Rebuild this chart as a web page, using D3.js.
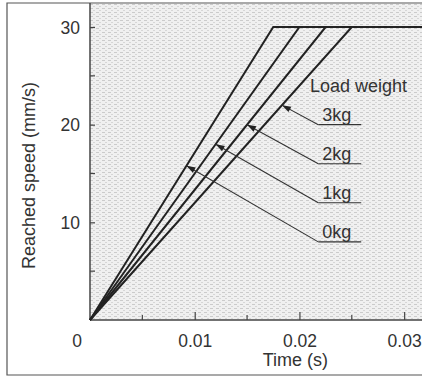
<!DOCTYPE html>
<html>
<head>
<meta charset="utf-8">
<script src="https://cdn.jsdelivr.net/npm/d3@7"></script>
<style>
  body { margin: 0; background: #fff; }
  svg { display: block; font-family: "Liberation Sans", Arial, sans-serif; }
  .tick-label { font-size: 17.5px; fill: #333; }
  .axis-title { font-size: 18px; fill: #333; }
  .note { font-size: 18px; fill: #333; }
</style>
</head>
<body>
<div id="chart"></div>
<script>
// chart values
const loads = ['0kg', '1kg', '2kg', '3kg'];
const reachTime = [0.0175, 0.0200, 0.0225, 0.0250];   // s, time to reach top speed
const topSpeed = 30;                                  // mm/s
const endTime = 0.0318;                               // right edge of the plot
const arrowSpeed = [15.8, 18, 20, 22];                // where each leader touches its line
const labelSpeed = [8, 12, 16, 20];                   // underline heights of the labels
const xTicks = [0.01, 0.02, 0.03];
const xMinor = [0.005, 0.015, 0.025];
const yTicks = [10, 20, 30];
const yMinor = [5, 15, 25];

const W = 422, H = 376;
const margin = { top: 4, left: 90, bottom: 56 };

const svg = d3.select('#chart').append('svg')
  .attr('width', W)
  .attr('height', H);

// halftone look of the plot area
const defs = svg.append('defs');
const pat = defs.append('pattern')
  .attr('id', 'ht')
  .attr('width', 6).attr('height', 4)
  .attr('patternUnits', 'userSpaceOnUse');
pat.append('rect').attr('width', 6).attr('height', 4).attr('fill', '#f0f0f0');
pat.append('rect').attr('x', 0).attr('y', 0).attr('width', 3).attr('height', 1).attr('fill', '#cbcbcb');
pat.append('rect').attr('x', 3).attr('y', 2).attr('width', 2).attr('height', 1).attr('fill', '#d6d6d6');

const xScale = d3.scaleLinear().domain([0, endTime]).range([margin.left, W + 1]);
const yScale = d3.scaleLinear().domain([0, topSpeed]).range([H - margin.bottom, 27]);

const y0 = yScale(0);

svg.append('rect')
  .attr('x', margin.left).attr('y', margin.top)
  .attr('width', W - margin.left).attr('height', y0 - margin.top)
  .attr('fill', 'url(#ht)');

// outer frame (cut off on the right)
svg.append('path')
  .attr('d', `M${W},3 H7 V375 H${W}`)
  .attr('fill', 'none')
  .attr('stroke', '#555')
  .attr('stroke-width', 1.2);

// axes
const xAxis = svg.append('g')
  .attr('transform', `translate(0, ${y0})`)
  .call(d3.axisBottom(xScale).tickValues(xTicks).tickSizeInner(-8).tickSizeOuter(0).tickFormat(d3.format('.2f')));
xAxis.append('g').selectAll('line').data(xMinor).join('line')
  .attr('x1', d => xScale(d)).attr('x2', d => xScale(d))
  .attr('y1', 0).attr('y2', -5)
  .attr('stroke', '#444');

const yAxis = svg.append('g')
  .attr('transform', `translate(${margin.left}, 0)`)
  .call(d3.axisLeft(yScale).tickValues(yTicks).tickSizeInner(-5).tickSizeOuter(0));
yAxis.append('g').selectAll('line').data(yMinor).join('line')
  .attr('y1', d => yScale(d)).attr('y2', d => yScale(d))
  .attr('x1', 0).attr('x2', 5)
  .attr('stroke', '#444');

[xAxis, yAxis].forEach(a => {
  a.select('.domain').remove();
  a.selectAll('line').attr('stroke', '#444').attr('stroke-width', 1.2);
  a.selectAll('text').attr('class', 'tick-label').attr('font-size', null).attr('font-family', null);
});
xAxis.selectAll('.tick text').attr('dy', null).attr('y', 27);
yAxis.selectAll('.tick text').attr('x', -10).attr('dy', '0.36em');

// axis lines
svg.append('line')
  .attr('x1', margin.left).attr('x2', W)
  .attr('y1', y0).attr('y2', y0)
  .attr('stroke', '#444').attr('stroke-width', 1.5);
svg.append('line')
  .attr('x1', margin.left).attr('x2', margin.left)
  .attr('y1', 3).attr('y2', y0)
  .attr('stroke', '#444').attr('stroke-width', 1.5);

// shared zero at the corner
svg.append('text')
  .attr('class', 'tick-label')
  .attr('x', xScale(0) - 13).attr('y', y0 + 27)
  .attr('text-anchor', 'middle')
  .text('0');

// axis titles
svg.append('text')
  .attr('class', 'axis-title')
  .attr('x', (xScale(0.015) + xScale(0.025)) / 2 - 4)
  .attr('y', 366)
  .attr('text-anchor', 'middle')
  .text('Time (s)');

svg.append('text')
  .attr('class', 'axis-title')
  .attr('transform', `translate(35, ${yScale(14.8)}) rotate(-90)`)
  .attr('text-anchor', 'middle')
  .text('Reached speed (mm/s)');

// series
const series = loads.map((name, i) => ({
  name,
  points: [[0, 0], [reachTime[i], topSpeed], [endTime, topSpeed]]
}));

const line = d3.line()
  .x(d => xScale(d[0]))
  .y(d => yScale(d[1]));

svg.append('g').selectAll('path').data(series).join('path')
  .attr('d', d => line(d.points))
  .attr('fill', 'none')
  .attr('stroke', '#222')
  .attr('stroke-width', 2)
  .attr('stroke-linejoin', 'miter');

// labels with leaders
const ulStart = 0.0218, ulEnd = 0.0259;
svg.append('text')
  .attr('class', 'note')
  .attr('x', xScale(0.0210))
  .attr('y', yScale(23.3))
  .text('Load weight');

const notes = svg.append('g');
loads.forEach((name, i) => {
  const tipX = xScale(arrowSpeed[i] / topSpeed * reachTime[i]);
  const tipY = yScale(arrowSpeed[i]);
  const sx = xScale(ulStart), sy = yScale(labelSpeed[i]);

  notes.append('line')
    .attr('x1', sx).attr('y1', sy)
    .attr('x2', xScale(ulEnd)).attr('y2', sy)
    .attr('stroke', '#333').attr('stroke-width', 1.1);
  notes.append('line')
    .attr('x1', sx).attr('y1', sy)
    .attr('x2', tipX).attr('y2', tipY)
    .attr('stroke', '#333').attr('stroke-width', 1.1);

  const ang = Math.atan2(tipY - sy, tipX - sx) * 180 / Math.PI;
  notes.append('path')
    .attr('d', 'M0,0 L-9,-3 L-9,3 Z')
    .attr('transform', `translate(${tipX},${tipY}) rotate(${ang})`)
    .attr('fill', '#222');

  notes.append('text')
    .attr('class', 'note')
    .attr('x', sx + 4)
    .attr('y', sy - 4)
    .text(name);
});
</script>
</body>
</html>
